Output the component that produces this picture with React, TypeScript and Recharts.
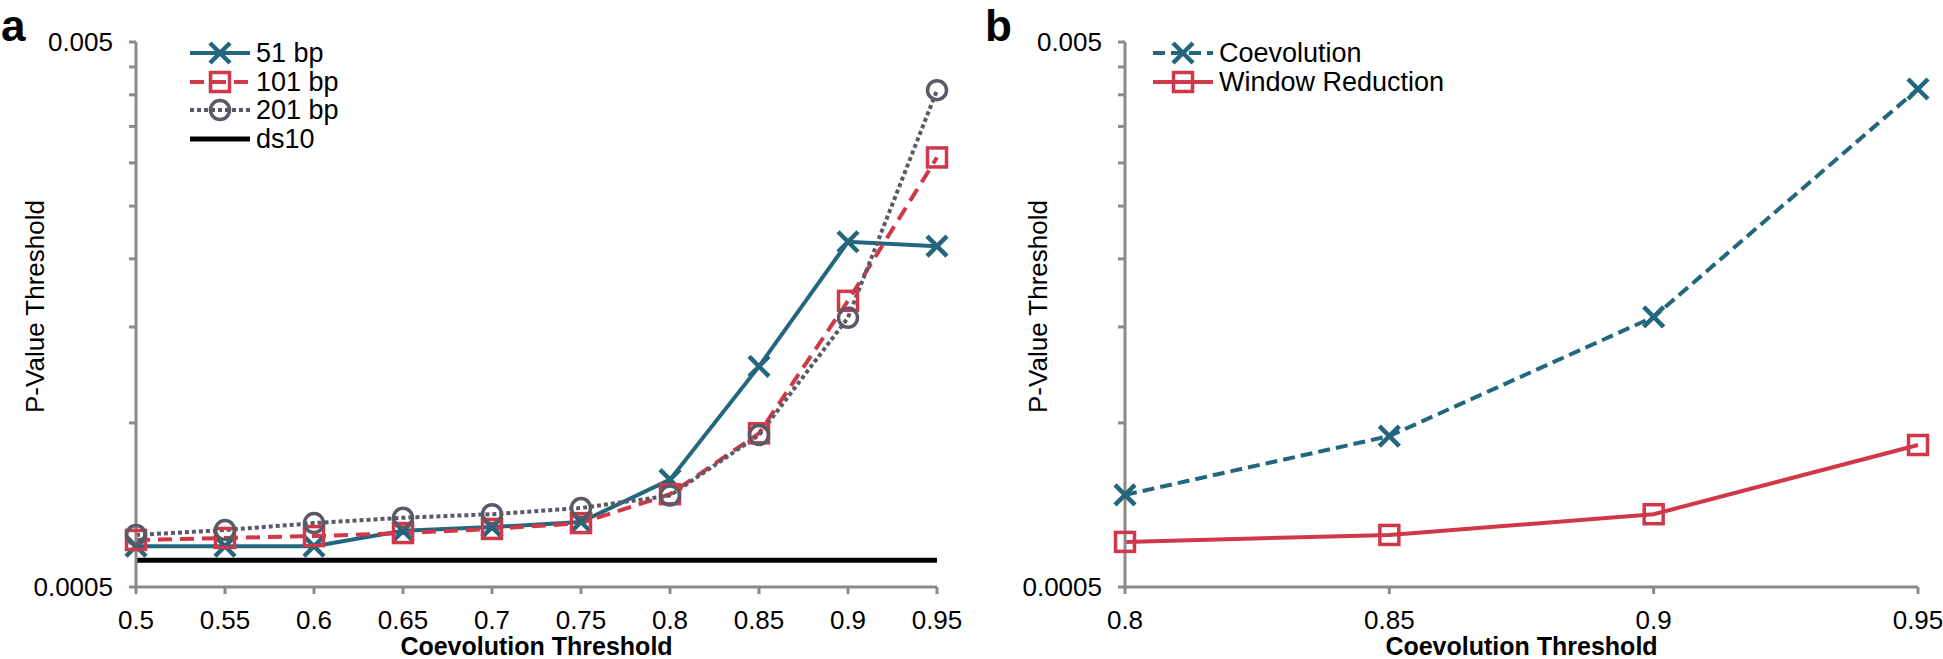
import React from 'react';
import { LineChart, Line, XAxis, YAxis, ReferenceLine, Legend } from 'recharts';

// Coevolution thresholds (x) and p-value thresholds (log y)
const thresholdsA = [0.5, 0.55, 0.6, 0.65, 0.7, 0.75, 0.8, 0.85, 0.9, 0.95];
const bp51 = [0.000594, 0.000594, 0.000594, 0.000634, 0.000644, 0.000658, 0.000787, 0.00127, 0.00215, 0.00211];
const bp101 = [0.00061, 0.000615, 0.00062, 0.000628, 0.000639, 0.000655, 0.00074, 0.000957, 0.001675, 0.00307];
const bp201 = [0.000623, 0.000636, 0.000655, 0.00067, 0.00068, 0.000698, 0.000736, 0.00095, 0.00156, 0.00408];
const DS10 = 0.00056;

const thresholdsB = [0.8, 0.85, 0.9, 0.95];
const coevolution = [0.000738, 0.000946, 0.001565, 0.0041];
const windowReduction = [0.000605, 0.000623, 0.00068, 0.000911];

const yTicks = [0.0005, 0.001, 0.0015, 0.002, 0.0025, 0.003, 0.0035, 0.004, 0.0045, 0.005];

const dataA = thresholdsA.map((x, i) => ({ x, bp51: bp51[i], bp101: bp101[i], bp201: bp201[i] }));
const dataB = thresholdsB.map((x, i) => ({ x, coev: coevolution[i], win: windowReduction[i] }));

const FONT = '"Liberation Sans", Arial, Helvetica, sans-serif';
const TEAL = '#23677f';
const RED = '#d0384a';
const GREY = '#595a66';
const AXIS = '#8a8a8a';

const XMark = ({ cx, cy, color }: any) => (
  <path d={`M${cx - 10},${cy - 10}L${cx + 10},${cy + 10}M${cx - 10},${cy + 10}L${cx + 10},${cy - 10}`}
    stroke={color} strokeWidth={4.5} fill="none" />
);
const SquareMark = ({ cx, cy, color }: any) => (
  <rect x={cx - 9.5} y={cy - 9.5} width={19} height={19} stroke={color} strokeWidth={3.5} fill="none" />
);
const CircleMark = ({ cx, cy, color }: any) => (
  <circle cx={cx} cy={cy} r={9.5} stroke={color} strokeWidth={3.5} fill="none" />
);

const dotOf = (Mark: any, color: string) => (p: any) => <Mark key={`d${p.index}`} cx={p.cx} cy={p.cy} color={color} />;

const yFmt = (v: number) => (v === 0.0005 ? '0.0005' : v === 0.005 ? '0.005' : '');

const yTitle = (x: number) => (p: any) => {
  const vb = p.viewBox;
  const cy = vb.y + vb.height / 2 - 8;
  return (
    <text x={x} y={cy} transform={`rotate(-90, ${x}, ${cy})`} textAnchor="middle" dominantBaseline="central"
      fontSize={26} fontFamily={FONT} fill="#000">P-Value Threshold</text>
  );
};
const xTitle = (p: any) => {
  const vb = p.viewBox;
  return (
    <text x={vb.x + vb.width / 2} y={vb.y + 68} textAnchor="middle" fontSize={25} fontWeight="bold"
      fontFamily={FONT} fill="#000">Coevolution Threshold</text>
  );
};

type Item = { label: string; color: string; dash?: string; width: number; mark?: any };
const itemsA: Item[] = [
  { label: '51 bp', color: TEAL, width: 4, mark: XMark },
  { label: '101 bp', color: RED, width: 4, dash: '14 8', mark: SquareMark },
  { label: '201 bp', color: GREY, width: 4, dash: '4 3', mark: CircleMark },
  { label: 'ds10', color: '#000', width: 5 },
];
const itemsB: Item[] = [
  { label: 'Coevolution', color: TEAL, width: 4, dash: '12 6', mark: XMark },
  { label: 'Window Reduction', color: RED, width: 4, mark: SquareMark },
];

const LegendBox = ({ items }: { items: Item[] }) => (
  <div style={{ fontFamily: FONT, fontSize: 27, color: '#000' }}>
    {items.map((it) => (
      <div key={it.label} style={{ display: 'flex', alignItems: 'center', height: 28.5 }}>
        <svg width={64} height={28} style={{ display: 'block', flexShrink: 0, minWidth: 64 }}>
          <line x1={2} y1={14} x2={62} y2={14} stroke={it.color} strokeWidth={it.width} strokeDasharray={it.dash} />
          {it.mark ? <it.mark cx={32} cy={14} color={it.color} /> : null}
        </svg>
        <span style={{ marginLeft: 4, lineHeight: '28px', whiteSpace: 'nowrap' }}>{it.label}</span>
      </div>
    ))}
  </div>
);

const tickStyle = { fontSize: 26, fontFamily: FONT, fill: '#000' };

export default function App() {
  return (
    <div style={{ position: 'absolute', left: 0, top: 0, width: 1943, height: 659, background: '#fff' }}>
      <svg width={1943} height={60} style={{ position: 'absolute', left: 0, top: 0 }}>
        <text x={1} y={41} fontSize={44} fontWeight="bold" fontFamily={FONT} fill="#000">a</text>
        <text x={985} y={41} fontSize={44} fontWeight="bold" fontFamily={FONT} fill="#000">b</text>
      </svg>

      <div style={{ position: 'absolute', left: 0, top: 0 }}>
        <LineChart width={980} height={659} data={dataA} margin={{ top: 42, right: 43, bottom: 0, left: 0 }}>
          <XAxis dataKey="x" type="number" domain={[0.5, 0.95]} ticks={thresholdsA} height={72}
            stroke={AXIS} strokeWidth={3} tickSize={7} tickMargin={17} tick={tickStyle}
            tickLine={{ stroke: AXIS, strokeWidth: 3 }} label={xTitle} />
          <YAxis type="number" scale="log" domain={[0.0005, 0.005]} allowDataOverflow ticks={yTicks}
            tickFormatter={yFmt} width={136} stroke={AXIS} strokeWidth={3} tickSize={7} tickMargin={16}
            tick={tickStyle} tickLine={{ stroke: AXIS, strokeWidth: 3 }} label={yTitle(35)} />
          <ReferenceLine y={DS10} stroke="#000" strokeWidth={5} />
          <Line dataKey="bp51" stroke={TEAL} strokeWidth={4} dot={dotOf(XMark, TEAL)} isAnimationActive={false} />
          <Line dataKey="bp101" stroke={RED} strokeWidth={4} strokeDasharray="14 8" dot={dotOf(SquareMark, RED)} isAnimationActive={false} />
          <Line dataKey="bp201" stroke={GREY} strokeWidth={4} strokeDasharray="4 3" dot={dotOf(CircleMark, GREY)} isAnimationActive={false} />
          <Legend layout="vertical" align="center" verticalAlign="middle"
            wrapperStyle={{ top: 39, left: 188, width: 220 }} content={() => <LegendBox items={itemsA} />} />
        </LineChart>
      </div>

      <div style={{ position: 'absolute', left: 980, top: 0 }}>
        <LineChart width={963} height={659} data={dataB} margin={{ top: 42, right: 25, bottom: 0, left: 0 }}>
          <XAxis dataKey="x" type="number" domain={[0.8, 0.95]} ticks={thresholdsB} height={72}
            stroke={AXIS} strokeWidth={3} tickSize={7} tickMargin={17} tick={tickStyle}
            tickLine={{ stroke: AXIS, strokeWidth: 3 }} label={xTitle} />
          <YAxis type="number" scale="log" domain={[0.0005, 0.005]} allowDataOverflow ticks={yTicks}
            tickFormatter={yFmt} width={145} stroke={AXIS} strokeWidth={3} tickSize={7} tickMargin={16}
            tick={tickStyle} tickLine={{ stroke: AXIS, strokeWidth: 3 }} label={yTitle(58)} />
          <Line dataKey="coev" stroke={TEAL} strokeWidth={4} strokeDasharray="12 6" dot={dotOf(XMark, TEAL)} isAnimationActive={false} />
          <Line dataKey="win" stroke={RED} strokeWidth={4} dot={dotOf(SquareMark, RED)} isAnimationActive={false} />
          <Legend layout="vertical" align="center" verticalAlign="middle"
            wrapperStyle={{ top: 39, left: 171, width: 340 }} content={() => <LegendBox items={itemsB} />} />
        </LineChart>
      </div>
    </div>
  );
}
